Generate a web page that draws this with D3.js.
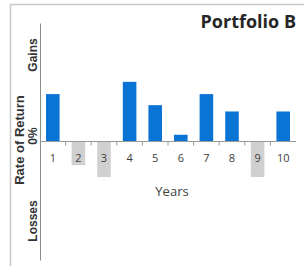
<!DOCTYPE html>
<html>
<head>
<meta charset="utf-8">
<script src="https://cdn.jsdelivr.net/npm/d3@7"></script>
<style>
  body { margin: 0; background: #fff; }
  text { font-family: "Open Sans", "Liberation Sans", sans-serif; }
</style>
</head>
<body>
<div id="chart"></div>
<script>
// data
var years = ["1", "2", "3", "4", "5", "6", "7", "8", "9", "10"];
var returns = [12, -6, -9, 15.1, 9.2, 1.7, 12, 7.6, -9, 7.6];
var yDomain = [-30, 30];

var svgWidth = 304, svgHeight = 266;
var margin = { top: 23, right: 8, bottom: 6, left: 40 };
var chartWidth = svgWidth - margin.left - margin.right;
var chartHeight = 260 - margin.top;

var svg = d3.select("#chart")
    .append("svg")
    .attr("width", svgWidth)
    .attr("height", svgHeight);

// outer frame
svg.append("path")
    .attr("d", "M10.5," + svgHeight + "V4.5H" + svgWidth)
    .attr("fill", "none")
    .attr("stroke", "#c8c8c8")
    .attr("stroke-width", 1.5);

var chartGroup = svg.append("g")
    .attr("transform", `translate(${margin.left}, ${margin.top})`);

var xScale = d3.scaleBand()
    .domain(years)
    .range([0, chartWidth])
    .paddingInner(0.47)
    .paddingOuter(0.235);

var yScale = d3.scaleLinear()
    .domain(yDomain)
    .range([chartHeight, 0]);

// bars
chartGroup.append("g").selectAll("rect")
    .data(returns)
    .enter()
    .append("rect")
    .attr("x", (d, i) => xScale(years[i]))
    .attr("width", xScale.bandwidth())
    .attr("y", d => yScale(Math.max(0, d)))
    .attr("height", d => Math.abs(yScale(d) - yScale(0)))
    .attr("fill", d => d >= 0 ? "#0a74d5" : "#d0d0d0");

// y axis line
chartGroup.append("g")
    .call(d3.axisLeft(yScale).tickValues([]).tickSizeOuter(0))
    .call(g => g.select(".domain").attr("stroke", "#8c8c8c"));

// x axis at zero with ticks between categories
var xAxisG = chartGroup.append("g")
    .attr("transform", `translate(0, ${yScale(0)})`);
xAxisG.append("line")
    .attr("x1", 0).attr("x2", chartWidth)
    .attr("stroke", "#9a9a9a");
xAxisG.selectAll(".tk")
    .data(years.slice(1))
    .enter()
    .append("line")
    .attr("class", "tk")
    .attr("x1", d => xScale(d) - (xScale.step() - xScale.bandwidth()) / 2)
    .attr("x2", d => xScale(d) - (xScale.step() - xScale.bandwidth()) / 2)
    .attr("y1", 0).attr("y2", 4)
    .attr("stroke", "#9a9a9a");
xAxisG.selectAll(".lbl")
    .data(years)
    .enter()
    .append("text")
    .attr("class", "lbl")
    .attr("x", d => xScale(d) + xScale.bandwidth() / 2)
    .attr("y", 20)
    .attr("text-anchor", "middle")
    .attr("font-size", 11)
    .attr("fill", "#404040")
    .text(d => d);

// axis titles
chartGroup.append("text")
    .attr("x", chartWidth / 2 + 4)
    .attr("y", yScale(0) + 54)
    .attr("text-anchor", "middle")
    .attr("font-size", 13)
    .attr("fill", "#404040")
    .text("Years");

function rotLabel(text, x, y, size) {
    svg.append("text")
        .attr("transform", `translate(${x}, ${y}) rotate(-90)`)
        .attr("text-anchor", "middle")
        .attr("font-size", size)
        .attr("font-weight", "bold")
        .attr("fill", "#333")
        .style("font-family", "'Liberation Sans', Arial, sans-serif")
        .text(text);
}
rotLabel("Rate of Return", 24, 140, 13);
rotLabel("Gains", 37, 55, 12);
rotLabel("0%", 37, 136, 12);
rotLabel("Losses", 37, 221, 12);

// title
svg.append("text")
    .attr("x", 296)
    .attr("y", 28)
    .attr("text-anchor", "end")
    .attr("font-size", 18)
    .attr("font-weight", "bold")
    .attr("fill", "#262626")
    .text("Portfolio B");
</script>
</body>
</html>
